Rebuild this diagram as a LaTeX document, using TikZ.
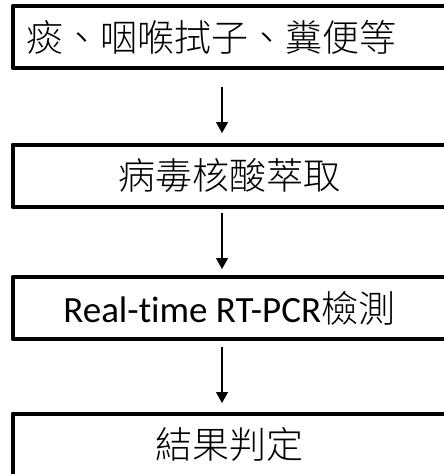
\documentclass[tikz,border=0pt]{standalone}
\usepackage{fontspec}
\setmainfont[Ligatures=NoCommon]{Carlito}
\newfontfamily\cjk{Noto Sans CJK TC Light}
\usetikzlibrary{arrows.meta}
\tikzset{
  stepbox/.style={draw=black, line width=4pt, fill=white, minimum width=433.5pt, minimum height=62pt, outer sep=0pt, inner sep=0pt, anchor=center, line join=round},
  flowarr/.style={draw=black, line width=1.3pt, -{Triangle[width=12pt,length=11pt]}}
}
\begin{document}
\begin{tikzpicture}[x=1pt,y=-1pt]
\useasboundingbox (0,0) rectangle (444,474);
\clip (0,0) rectangle (444,474);
\node[stepbox] (b1) at (229.25,37) {\fontsize{37pt}{40pt}\selectfont\cjk 痰、咽喉拭子、糞便等\hspace*{36pt}};
\node[stepbox] (b2) at (229.25,175.5) {\fontsize{37pt}{40pt}\selectfont\cjk 病毒核酸萃取};
\node[stepbox] (b3) at (229.25,308) {\fontsize{37pt}{40pt}\selectfont Real-time RT-PCR{\cjk 檢測}};
\node[stepbox] (b4) at (229.25,444.5) {\fontsize{37pt}{40pt}\selectfont\cjk 結果判定};
\draw[flowarr] ([xshift=-7.25pt,yshift=-19pt]b1.south) -- ([xshift=-7.25pt,yshift=11.5pt]b2.north);
\draw[flowarr] ([xshift=-7.25pt,yshift=-6.5pt]b2.south) -- ([xshift=-7.25pt,yshift=8pt]b3.north);
\draw[flowarr] ([xshift=-7.25pt,yshift=-8pt]b3.south) -- ([xshift=-7.25pt,yshift=10.5pt]b4.north);
\end{tikzpicture}
\end{document}
